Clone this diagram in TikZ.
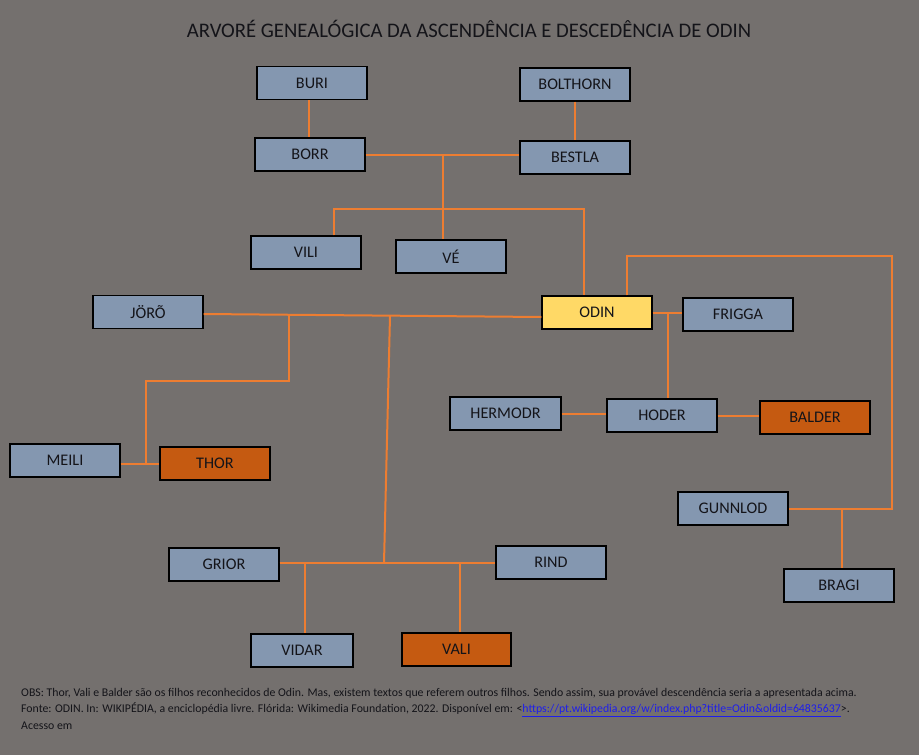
\documentclass[tikz,border=0pt]{standalone}
\usepackage{fontspec}
\setmainfont{Carlito}
\usetikzlibrary{calc}
\definecolor{bg}{RGB}{116,112,110}
\definecolor{boxblue}{RGB}{132,151,176}
\definecolor{lineor}{RGB}{237,125,49}
\definecolor{darkor}{RGB}{197,90,17}
\definecolor{gold}{RGB}{255,217,102}
\definecolor{txt}{RGB}{20,20,25}
\definecolor{linkblue}{RGB}{30,30,235}
\tikzset{
  person/.style={draw=black, line width=1.1pt, fill=boxblue, minimum width=110pt, minimum height=33pt, inner sep=0pt, text=txt, font=\fontsize{16.2}{19}\selectfont},
  son/.style={person, fill=darkor},
  odinbox/.style={person, fill=gold},
  link/.style={draw=lineor, line width=2pt},
}
\begin{document}
\begin{tikzpicture}[x=1pt,y=-1pt]
\fill[bg] (0,0) rectangle (919,755);
\useasboundingbox (0,0) rectangle (919,755);

\node[text=txt, font=\fontsize{20.7}{24}\selectfont] (title) at (469,29) {ARVORÉ GENEALÓGICA DA ASCENDÊNCIA E DESCEDÊNCIA DE ODIN};

% junction points
\coordinate (jbb) at (443,155);
\coordinate (bl) at (334,209);
\coordinate (br) at (584,209);
\coordinate (jf) at (668,313);
\coordinate (corner) at (892,256);
\coordinate (jbr) at (842,509);
\coordinate (jt) at (289,315);
\coordinate (jmt) at (146,381);
\coordinate (jg) at (390,316);
\coordinate (jgb) at (384,563);
\coordinate (jvd) at (305,563);
\coordinate (jvl) at (460,563);

% nodes
\node[person] (buri) at (312,83) {BURI};
\node[person] (bolthorn) at (575,84.5) {BOLTHORN};
\node[person] (borr) at (310,154.5) {BORR};
\node[person] (bestla) at (575,157.5) {BESTLA};
\node[person] (vili) at (306,252.5) {VILI};
\node[person] (ve) at (451,256.5) {VÉ};
\node[person] (joro) at (148,312) {JÖRÕ};
\node[odinbox] (odin) at (597,312.5) {ODIN};
\node[person] (frigga) at (738,314.5) {FRIGGA};
\node[person, minimum width=111pt] (hermodr) at (505.5,413.5) {HERMODR};
\node[person] (hoder) at (662,415.5) {HODER};
\node[son] (balder) at (815,417.5) {BALDER};
\node[person] (meili) at (65,460.5) {MEILI};
\node[son] (thor) at (215,463.5) {THOR};
\node[person] (gunnlod) at (733,508.5) {GUNNLOD};
\node[person] (grior) at (224,564.5) {GRIOR};
\node[person] (rind) at (551,562.5) {RIND};
\node[person] (bragi) at (839,585.5) {BRAGI};
\node[person, minimum width=102pt] (vidar) at (302,650.5) {VIDAR};
\node[son, minimum width=109pt] (vali) at (456.5,649.5) {VALI};

% connectors
\draw[link] (buri.south -| 309,0) -- (borr.north -| 309,0);
\draw[link] (bolthorn.south) -- (bestla.north);
\draw[link] (borr.east |- jbb) -- (bestla.west |- jbb);
\draw[link] (jbb) -- (jbb |- ve.north);
\draw[link] (bl |- vili.north) -- (bl) -- (br) -- (br |- odin.north);
\draw[link] ([xshift=30pt]odin.north) |- (corner) |- (gunnlod.east);
\draw[link] (jbr) -- (jbr |- bragi.north);
\draw[link] (odin.east |- jf) -- (frigga.west |- jf);
\draw[link] (jf) -- (jf |- hoder.north);
\draw[link] (hermodr.east) -- (hoder.west |- hermodr.east);
\draw[link] (hoder.east) -- (balder.west |- hoder.east);
\draw[link] ([yshift=-2pt]joro.east) -- ([yshift=-4.5pt]odin.west);
\draw[link] (jt) |- (jmt) -- (jmt |- thor.west);
\draw[link] (meili.east |- thor.west) -- (thor.west);
\draw[link] (jg) -- (jgb);
\draw[link] (grior.east |- jgb) -- (rind.west |- jgb);
\draw[link] (jvd) -- (jvd |- vidar.north);
\draw[link] (jvl) -- (jvl |- vali.north);

% note
\node[anchor=north west, align=left, text=txt, inner sep=0pt, font=\fontsize{11.8}{16.5}\selectfont] (note) at (21,688)
{OBS: Thor, Vali e Balder são os filhos reconhecidos de Odin. Mas, existem textos que referem outros filhos. Sendo assim, sua provável descendência seria a apresentada acima.\\
Fonte: ODIN. In: WIKIPÉDIA, a enciclopédia livre. Flórida: Wikimedia Foundation, 2022. Disponível em: <\textcolor{linkblue}{\underline{https://pt.wikipedia.org/w/index.php?title=Odin\&oldid=64835637}}>.\\
Acesso em};
\end{tikzpicture}
\end{document}
